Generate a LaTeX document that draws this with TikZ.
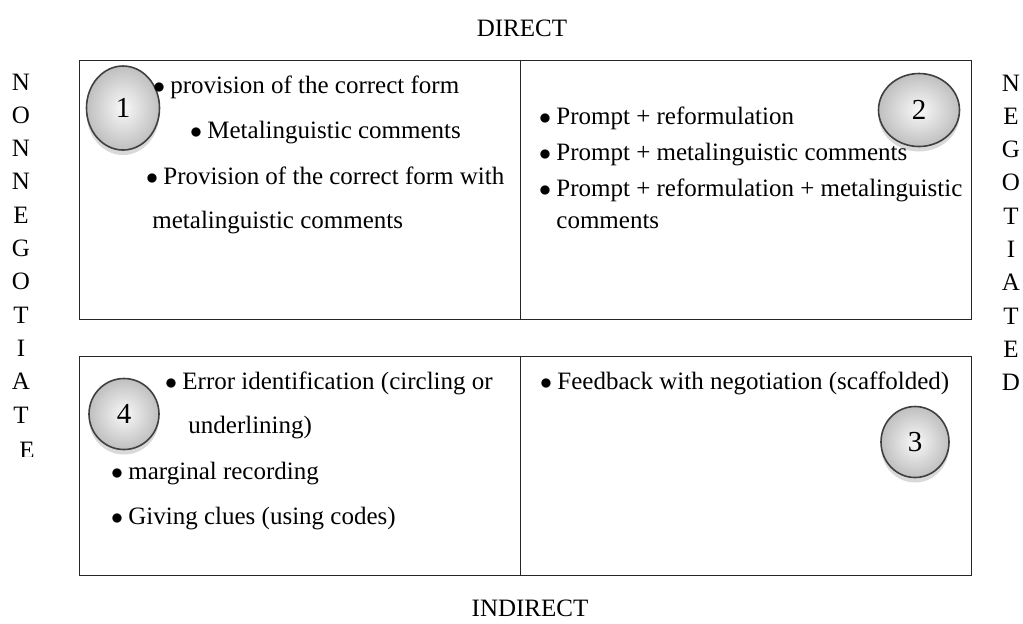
\documentclass[tikz,border=0pt]{standalone}
\usepackage{fontspec}
\setmainfont{Liberation Serif}
\usetikzlibrary{shapes.geometric, shadows}

\newcommand{\itemdot}{\makebox[7.5pt][l]{\hspace{-1.2pt}$\bullet$}}

\tikzset{
	cell/.style = {draw = black!85, line width = 0.7pt, anchor = north west, inner sep = 0pt},
	item/.style = {anchor = base west, inner sep = 0pt, font = \fontsize{12.5}{15}\selectfont},
	side/.style = {anchor = base, inner sep = 0pt, font = \fontsize{12.5}{15}\selectfont},
	badge/.style = {ellipse, draw = gray!50!black, line width = 0.8pt, inner sep = 0pt,
		inner color = gray!5, outer color = gray!50,
		drop shadow = {opacity = 0.3, shadow xshift = 0pt, shadow yshift = -2.5pt},
		font = \fontsize{14.5}{15}\selectfont},
}

\begin{document}
\begin{tikzpicture}[x = 0.5pt, y = -0.5pt]
	\useasboundingbox (0,0) rectangle (1023,623);

	% the four quadrants
	\node [cell, minimum width = 220.5pt, minimum height = 129.5pt] (tl) at (79,60) {};
	\node [cell, minimum width = 225.5pt, minimum height = 129.5pt] (tr) at (520,60) {};
	\node [cell, minimum width = 220.5pt, minimum height = 109.5pt] (bl) at (79,356) {};
	\node [cell, minimum width = 225.5pt, minimum height = 109.5pt] (br) at (520,356) {};

	% numbered buttons
	\node [badge, minimum width = 36.5pt, minimum height = 42pt] (b1) at (123,108) {1};
	\node [badge, minimum width = 40.5pt, minimum height = 36.5pt] (b2) at (919,110) {2};
	\node [badge, minimum width = 34pt, minimum height = 35.5pt] (b3) at (915,442) {3};
	\node [badge, minimum width = 35pt, minimum height = 35.5pt] (b4) at (124,414) {4};

	% direct, non negotiated
	\node [item] (t1a) at (155,93) {\itemdot provision of the correct form};
	\node [item] (t1b) at (192,138) {\itemdot Metalinguistic comments};
	\node [item] (t1c) at (148,184) {\itemdot Provision of the correct form with};
	\node [item] (t1d) at (152,228) {metalinguistic comments};

	% direct, negotiated
	\node [item] (t2a) at (541,124) {\itemdot Prompt + reformulation};
	\node [item] (t2b) at (541,160) {\itemdot Prompt + metalinguistic comments};
	\node [item] (t2c) at (541,196) {\itemdot Prompt + reformulation + metalinguistic};
	\node [item] (t2d) at (556,228) {comments};

	% indirect, negotiated
	\node [item] (t3a) at (542,389) {\itemdot Feedback with negotiation (scaffolded)};

	% indirect, non negotiated
	\node [item] (t4a) at (167,389) {\itemdot Error identification (circling or};
	\node [item] (t4b) at (188,433) {underlining)};
	\node [item] (t4c) at (113,479) {\itemdot marginal recording};
	\node [item] (t4d) at (113,524) {\itemdot Giving clues (using codes)};

	% axis labels
	\node [side] (top) at (522,36) {DIRECT};
	\node [side] (bottom) at (530,616) {INDIRECT};

	\foreach \ch [count = \i from 0] in {N,O,N,N,E,G,O,T,I,A,T}
		\node [side] (left\i) at (21,{90 + 33.3*\i}) {\ch};
	\begin{scope}
		\clip (0,0) rectangle (60,456);
		\node [side] (left11) at (27,458) {E};
	\end{scope}

	\foreach \ch [count = \i from 0] in {N,E,G,O,T,I,A,T,E,D}
		\node [side] (right\i) at (1011,{91 + 33.3*\i}) {\ch};
\end{tikzpicture}
\end{document}
